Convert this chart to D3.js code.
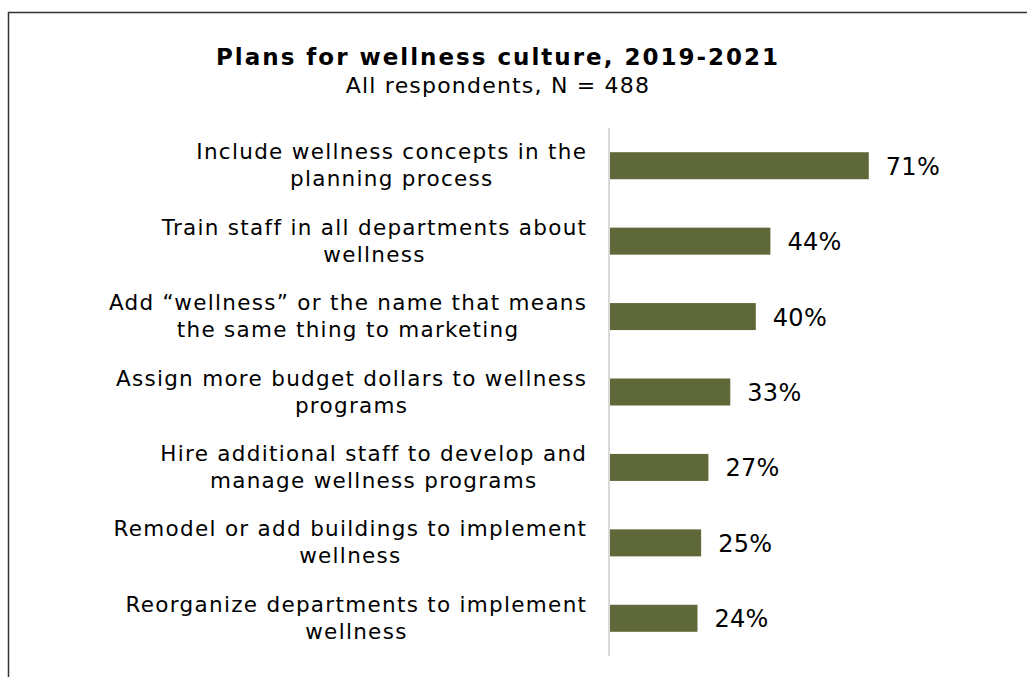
<!DOCTYPE html>
<html>
<head>
<meta charset="utf-8">
<script src="https://cdn.jsdelivr.net/npm/d3@7"></script>
<style>
  html, body { margin: 0; padding: 0; background: #fff; }
  svg { display: block; }
  text { font-family: "DejaVu Sans", Verdana, sans-serif; fill: #000; }
</style>
</head>
<body>
<svg id="chart" width="1027" height="677"></svg>
<script>
// Survey results: planned wellness-culture initiatives
const categories = [
  ["Include wellness concepts in the", "planning process"],
  ["Train staff in all departments about", "wellness"],
  ["Add \u201cwellness\u201d or the name that means", "the same thing to marketing"],
  ["Assign more budget dollars to wellness", "programs"],
  ["Hire additional staff to develop and", "manage wellness programs"],
  ["Remodel or add buildings to implement", "wellness"],
  ["Reorganize departments to implement", "wellness"]
];
const values = [71, 44, 40, 33, 27, 25, 24];
const titleText = "Plans for wellness culture, 2019-2021";
const subtitleText = "All respondents, N = 488";

const svg = d3.select("#chart");
const keys = categories.map((c, i) => i);

// Outer frame (top and left edges)
svg.append("path")
  .attr("d", "M8.5,677V12.5H1027")
  .attr("fill", "none")
  .attr("stroke", "#333")
  .attr("stroke-width", 1.5);

// Titles (letter-spacing adds a trailing gap, so shift by half of it)
svg.append("text")
  .attr("x", 498).attr("y", 65)
  .attr("text-anchor", "middle")
  .style("font-weight", "bold")
  .style("font-size", "23px")
  .style("letter-spacing", "2px")
  .text(titleText);

svg.append("text")
  .attr("x", 498).attr("y", 93)
  .attr("text-anchor", "middle")
  .style("font-size", "22px")
  .style("letter-spacing", "1.2px")
  .text(subtitleText);

// Scales
const x0 = 610;
const x = d3.scaleLinear().domain([0, 80]).range([x0, x0 + 80 * 3.645]);
const y = d3.scaleBand().domain(keys).range([128, 656])
  .paddingInner(0.642).paddingOuter(0.321);

// Bars
svg.append("g").selectAll("rect")
  .data(values)
  .join("rect")
  .attr("x", x(0))
  .attr("y", (d, i) => y(i))
  .attr("width", d => x(d) - x(0))
  .attr("height", y.bandwidth())
  .attr("fill", "#5f6839");

// Value labels
svg.append("g").selectAll("text")
  .data(values)
  .join("text")
  .attr("x", d => x(d) + 17)
  .attr("y", (d, i) => y(i) + y.bandwidth() / 2 + 9)
  .style("font-size", "24px")
  .style("letter-spacing", "0.3px")
  .text(d => d + "%");

// Category axis line
svg.append("line")
  .attr("x1", 609).attr("x2", 609)
  .attr("y1", 128).attr("y2", 656)
  .attr("stroke", "#d9d9d9")
  .attr("stroke-width", 2);

// Category labels: wrapped lines, centred within a right-aligned block
const labelRight = 586;
const lineGap = 27;
const spacing = 1.3;
const lbl = svg.append("g")
  .style("font-size", "21.5px")
  .style("letter-spacing", spacing + "px");
categories.forEach((lines, i) => {
  const g = lbl.append("g");
  const texts = lines.map((s, j) => g.append("text")
    .attr("text-anchor", "middle")
    .attr("y", y(i) + y.bandwidth() / 2 - lineGap / 2 + 7 + j * lineGap)
    .text(s));
  const w = d3.max(texts, t => t.node().getComputedTextLength()) - spacing;
  texts.forEach(t => t.attr("x", labelRight - w / 2 + spacing / 2));
});
</script>
</body>
</html>
